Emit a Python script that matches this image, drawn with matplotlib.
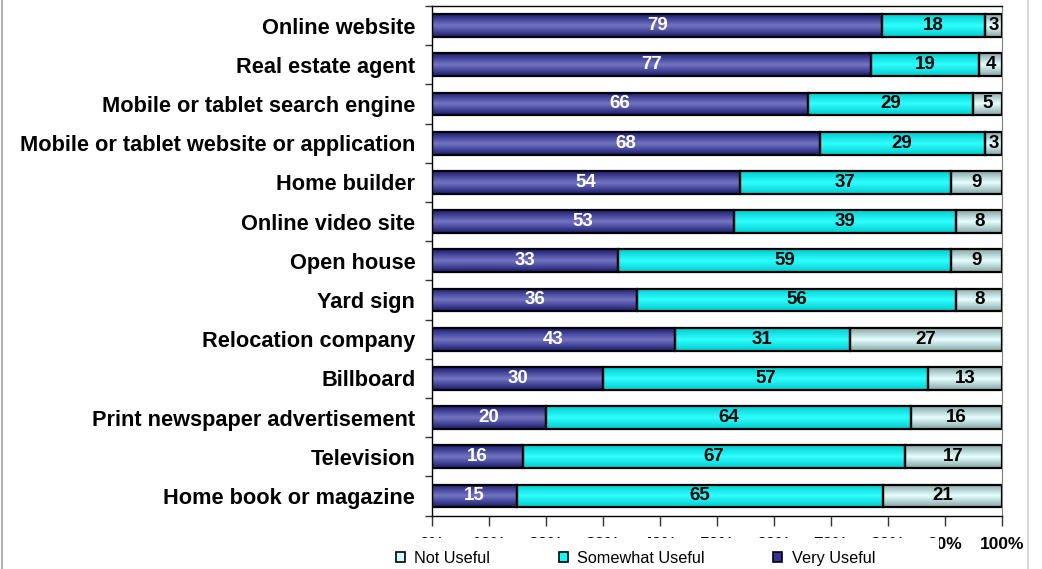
import numpy as np
import matplotlib
matplotlib.use("Agg")
import matplotlib.pyplot as plt
from matplotlib.colors import LinearSegmentedColormap
from matplotlib.patches import Patch, Rectangle
from matplotlib.lines import Line2D

plt.rcParams['font.family'] = ['Liberation Sans', 'DejaVu Sans']

categories = ["Online website", "Real estate agent", "Mobile or tablet search engine",
              "Mobile or tablet website or application", "Home builder", "Online video site",
              "Open house", "Yard sign", "Relocation company", "Billboard",
              "Print newspaper advertisement", "Television", "Home book or magazine"]
very_useful = [79, 77, 66, 68, 54, 53, 33, 36, 43, 30, 20, 16, 15]
somewhat_useful = [18, 19, 29, 29, 37, 39, 59, 56, 31, 57, 64, 67, 65]
not_useful = [3, 4, 5, 3, 9, 8, 9, 8, 27, 13, 16, 17, 21]
series_names = ["Very Useful", "Somewhat Useful", "Not Useful"]
xtick_labels = ["0%", "10%", "20%", "30%", "40%", "50%", "60%", "70%", "80%", "90%", "100%"]

# gradient maps: edge -> middle -> edge
cmaps = {
    "Very Useful": LinearSegmentedColormap.from_list("vu", ["#1c1c70", "#7474c4", "#1c1c70"]),
    "Somewhat Useful": LinearSegmentedColormap.from_list("su", ["#00cccc", "#30ffff", "#00cccc"]),
    "Not Useful": LinearSegmentedColormap.from_list("nu", ["#86a8a8", "#e6ffff", "#86a8a8"]),
}
flat = {"Very Useful": "#333399", "Somewhat Useful": "#00ffff", "Not Useful": "#ccffff"}
txt_col = {"Very Useful": "white", "Somewhat Useful": "black", "Not Useful": "black"}

fig = plt.figure(figsize=(10.42, 5.69), dpi=100)
ax = fig.add_axes([0.4146, 0.094, 0.547, 0.8955])

y = np.arange(len(categories))
bar_h = 0.58
grad = np.linspace(0, 1, 64).reshape(-1, 1)

# 100% stacked: each row scaled by its own total
raw = np.array([very_useful, somewhat_useful, not_useful], dtype=float)
totals = raw.sum(axis=0)

left = np.zeros(len(categories))
for name, vals, shown in zip(series_names, raw / totals * 100, raw):
    bars = ax.barh(y, vals, left=left, height=bar_h, facecolor='none',
                   edgecolor='black', linewidth=1.6, zorder=3)
    for b, v, l, s in zip(bars, vals, left, shown):
        bx, by, bw, bh = b.get_x(), b.get_y(), b.get_width(), b.get_height()
        im = ax.imshow(grad, extent=[bx, bx + bw, by + bh, by], aspect='auto',
                       cmap=cmaps[name], interpolation='bilinear', zorder=2)
        im.set_clip_path(b)
        ax.text(l + v / 2, by + bh / 2, f"{int(s)}", ha='center', va='center',
                fontsize=13.5, fontweight='bold', color=txt_col[name], zorder=4)
    left += vals

ax.set_xlim(0, 100)
ax.set_ylim(len(categories) - 0.5, -0.5)

ax.set_yticks(y)
ax.set_yticklabels(categories, fontsize=15.7, fontweight='bold')
ax.tick_params(axis='y', which='major', length=0, pad=12)
ax.set_yticks(np.arange(-0.5, len(categories), 1), minor=True)
ax.tick_params(axis='y', which='minor', length=5, direction='out', width=1, color='#333333')

ax.set_xticks(np.arange(0, 101, 10))
ax.set_xticklabels(xtick_labels, fontsize=12.5, fontweight='bold')
ax.tick_params(axis='x', length=7.5, direction='out', width=1, color='#333333', pad=8)

for s in ['left', 'bottom', 'top']:
    ax.spines[s].set_color('black')
    ax.spines[s].set_linewidth(1.0)
ax.spines['right'].set_color('#808080')

# legend box (white) sits over most of the x tick labels, as in the original
fig.add_artist(Rectangle((390 / 1042, 0), 549 / 1042, 31 / 569, transform=fig.transFigure,
                         facecolor='white', edgecolor='none', zorder=9))
handles = [Patch(facecolor=flat[n], edgecolor='black', linewidth=1.2)
           for n in ["Not Useful", "Somewhat Useful", "Very Useful"]]
leg = fig.legend(handles, ["Not Useful", "Somewhat Useful", "Very Useful"],
                 loc='center', bbox_to_anchor=(0.610, 0.0193), ncol=3, fontsize=11.7,
                 frameon=False, handlelength=0.55, handleheight=0.55, handletextpad=0.6,
                 columnspacing=4.2, borderpad=0.0)
leg.set_zorder(10)

# outer gray border lines
fig.add_artist(Line2D([0.0015, 0.0015], [0, 1], color='#b0b0b0', linewidth=1.5,
                      transform=fig.transFigure))
fig.add_artist(Line2D([0.9865, 0.9865], [0, 1], color='#d8d8d8', linewidth=1.5,
                      transform=fig.transFigure))

fig.savefig("out.png", dpi=100)
